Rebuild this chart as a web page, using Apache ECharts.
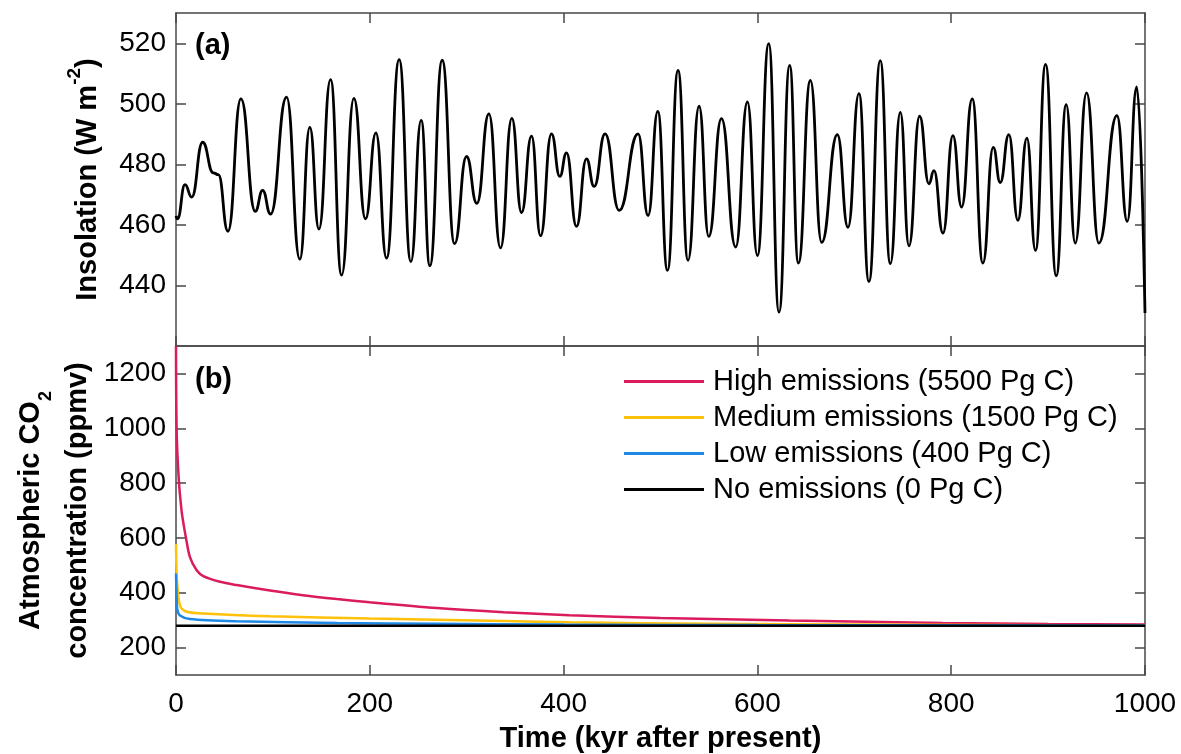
<!DOCTYPE html>
<html><head><meta charset="utf-8">
<script src="https://cdn.jsdelivr.net/npm/echarts@6/dist/echarts.min.js"></script>
<style>html,body{margin:0;padding:0;background:#fff}#c{width:1181px;height:754px}</style>
</head><body><div id="c"></div>
<script>
// ---- Panel (a): insolation (kyr after present, W m-2), read at extrema ----
const insoTime = [0, 1.5, 9.3, 16.2, 27.5, 38.5, 43.7, 53.6, 67, 81.8, 89.4, 97.6, 114.1, 127.8, 138.1, 147.5, 159.5, 170.9, 183.6, 195.6, 206.3, 217.3, 230.3, 242.4, 253, 262, 274.7, 287.5, 299.8, 310.5, 322.9, 334.9, 346.6, 356.6, 366.9, 376.2, 387.5, 396.1, 403, 413.3, 423.6, 431.5, 442.8, 457.3, 476.9, 487.2, 497.2, 507.2, 518.1, 528.4, 539.8, 549.8, 562.9, 577.6, 589.7, 600, 611.7, 622.3, 633.3, 642.3, 654.7, 666.3, 682.5, 693.5, 704.8, 715.1, 726.8, 737.2, 747.5, 756.4, 767.4, 777, 782.2, 791.5, 801.8, 810.7, 821.7, 832.7, 843.4, 850.6, 859.5, 868.8, 878.1, 887, 897.4, 908.4, 918.7, 928, 939.7, 952.4, 971, 981.7, 991.5, 1000];
const insoValue = [463, 462, 473.3, 469.2, 487.3, 477.2, 476.6, 457.9, 501.6, 464.5, 471.4, 463.6, 502.2, 448.7, 492.2, 458.6, 508, 443.4, 501.8, 462, 490.4, 449, 514.6, 447.9, 494.5, 446.5, 514.4, 453.8, 482.6, 467.1, 496.7, 452.4, 495.2, 464.1, 489.3, 456.4, 490.1, 476, 483.8, 459.5, 481.8, 472.7, 490.1, 464.8, 490.1, 463.1, 497.5, 445, 511, 448.3, 499.2, 456.2, 495.1, 452.7, 500.6, 449.9, 519.9, 431.2, 512.7, 447.4, 507.7, 454.2, 489.8, 459.2, 503.4, 441.3, 514.3, 447.2, 497.2, 453.1, 495.9, 473.6, 477.9, 457.3, 489.5, 465.9, 501.6, 447.4, 485.6, 474, 489.8, 461.5, 488.7, 451.6, 513, 443.2, 499.7, 454, 503.6, 454, 496.1, 461.2, 505.6, 430.9];

// ---- Panel (b): atmospheric CO2 (ppmv) ----
const highTime = [0, 0.7, 3, 5.8, 7.6, 10.3, 14.4, 21.3, 28.2, 45.4, 62.6, 97, 131, 166, 200, 269, 338, 406, 500, 633, 791, 900, 1000];
const highValue = [1300, 986, 806, 698, 655, 600, 530, 482, 461, 440, 428, 408, 391, 377, 365, 344, 329, 318, 308, 299, 290, 286, 284];
const medTime = [0, 0.6, 1.5, 2.4, 4, 5.8, 11, 28, 97, 200, 338, 406, 550, 700, 850, 1000];
const medValue = [578, 470, 420, 385, 355, 342, 331, 324, 314, 306, 297, 292, 287, 284, 282, 281];
const lowTime = [0, 0.7, 1.4, 4.1, 14.4, 62.6, 166, 269, 400, 600, 1000];
const lowValue = [470, 380, 338, 317, 304, 296, 290, 287, 284, 282, 281];
const noneTime = [0, 1000];
const noneValue = [280, 280];

const seriesNames = ['High emissions (5500 Pg C)', 'Medium emissions (1500 Pg C)', 'Low emissions (400 Pg C)', 'No emissions (0 Pg C)'];
const seriesColors = ['#DA1B5E', '#FFC10A', '#1E88E5', '#000000'];

// ---- Tick labels ----
const xTicks = [0, 200, 400, 600, 800, 1000];
const insoTicks = [440, 460, 480, 500, 520];
const co2Ticks = [200, 400, 600, 800, 1000, 1200];

const pairs = (t, v) => t.map((x, i) => [x, v[i]]);
const FONT = '"Liberation Sans", Arial, sans-serif';
const AX = '#474747';
const axisLine = {show: true, onZero: false, lineStyle: {color: AX, width: 1.5}};
const tick = vals => ({show: true, inside: true, length: 10, lineStyle: {color: AX, width: 1.5}, customValues: vals});
const lab = (show, vals, margin) => ({show: show, customValues: vals, margin: margin, fontSize: 28, fontFamily: FONT,
  color: '#000', formatter: v => String(v)});

function mkX(g, pos, show, extra) {
  return Object.assign({type: 'value', gridIndex: g, position: pos, min: 0, max: 1000,
    axisLine: axisLine, axisTick: tick(xTicks), axisLabel: lab(show, xTicks, 15), splitLine: {show: false}}, extra || {});
}
function mkY(g, pos, min, max, ticks, show, extra) {
  return Object.assign({type: 'value', gridIndex: g, position: pos, min: min, max: max,
    axisLine: axisLine, axisTick: tick(ticks), axisLabel: lab(show, ticks, 10), splitLine: {show: false}}, extra || {});
}

const bold = {fontSize: 29, fontWeight: 'bold', fontFamily: FONT, color: '#000'};

const option = {
  animation: false,
  backgroundColor: '#fff',
  grid: [
    {left: 176, right: 36, top: 13, height: 333},
    {left: 176, right: 36, top: 346, height: 333}
  ],
  title: [
    {text: '(a)', left: 195, top: 31, padding: 0, textStyle: bold},
    {text: '(b)', left: 195, top: 365, padding: 0, textStyle: bold}
  ],
  xAxis: [
    mkX(0, 'bottom', false),
    mkX(0, 'top', false),
    mkX(1, 'bottom', true, {name: 'Time (kyr after present)', nameLocation: 'middle', nameGap: 49,
      nameTextStyle: bold}),
    mkX(1, 'top', false)
  ],
  yAxis: [
    mkY(0, 'left', 420, 530, insoTicks, true, {
      name: '{b|Insolation (W m}{sup|-2}{b|)}', nameLocation: 'middle', nameGap: 65,
      nameTextStyle: {rich: {
        b: {fontSize: 29, fontWeight: 'bold', fontFamily: FONT, color: '#000', lineHeight: 46},
        sup: {fontSize: 19, fontWeight: 'bold', fontFamily: FONT, color: '#000', lineHeight: 19, verticalAlign: 'top'}
      }}
    }),
    mkY(0, 'right', 420, 530, insoTicks, false),
    mkY(1, 'left', 100, 1300, co2Ticks, true, {
      name: '{b|Atmospheric CO}{sub|2}\n{b|concentration (ppmv)}', nameLocation: 'middle', nameGap: 74,
      nameTextStyle: {rich: {
        b: {fontSize: 29, fontWeight: 'bold', fontFamily: FONT, color: '#000', lineHeight: 47},
        sub: {fontSize: 18, fontWeight: 'bold', fontFamily: FONT, color: '#000', lineHeight: 18, verticalAlign: 'bottom'}
      }}
    }),
    mkY(1, 'right', 100, 1300, co2Ticks, false)
  ],
  legend: {
    data: seriesNames, orient: 'vertical', left: 624, top: 367, padding: 0,
    icon: 'rect', itemWidth: 80, itemHeight: 3, itemGap: 7,
    textStyle: {fontSize: 29, fontFamily: FONT, color: '#000', lineHeight: 28, padding: [0, 0, 0, 4]}
  },
  series: [
    {type: 'line', name: 'Insolation', xAxisIndex: 0, yAxisIndex: 0, data: pairs(insoTime, insoValue),
      symbol: 'none', smooth: 0.5, smoothMonotone: 'x', lineStyle: {color: '#000', width: 2.8}, itemStyle: {color: '#000'}},
    {type: 'line', name: seriesNames[0], xAxisIndex: 2, yAxisIndex: 2, data: pairs(highTime, highValue),
      symbol: 'none', smooth: 0.3, lineStyle: {color: seriesColors[0], width: 2.5}, itemStyle: {color: seriesColors[0]}},
    {type: 'line', name: seriesNames[1], xAxisIndex: 2, yAxisIndex: 2, data: pairs(medTime, medValue),
      symbol: 'none', smooth: 0.3, lineStyle: {color: seriesColors[1], width: 2.5}, itemStyle: {color: seriesColors[1]}},
    {type: 'line', name: seriesNames[2], xAxisIndex: 2, yAxisIndex: 2, data: pairs(lowTime, lowValue),
      symbol: 'none', smooth: 0.3, lineStyle: {color: seriesColors[2], width: 2.5}, itemStyle: {color: seriesColors[2]}},
    {type: 'line', name: seriesNames[3], xAxisIndex: 2, yAxisIndex: 2, data: pairs(noneTime, noneValue),
      symbol: 'none', lineStyle: {color: seriesColors[3], width: 2.5}, itemStyle: {color: seriesColors[3]}}
  ]
};
const chart = echarts.init(document.getElementById('c'), null, {renderer: 'canvas'});
chart.setOption(option);
</script>
</body></html>
